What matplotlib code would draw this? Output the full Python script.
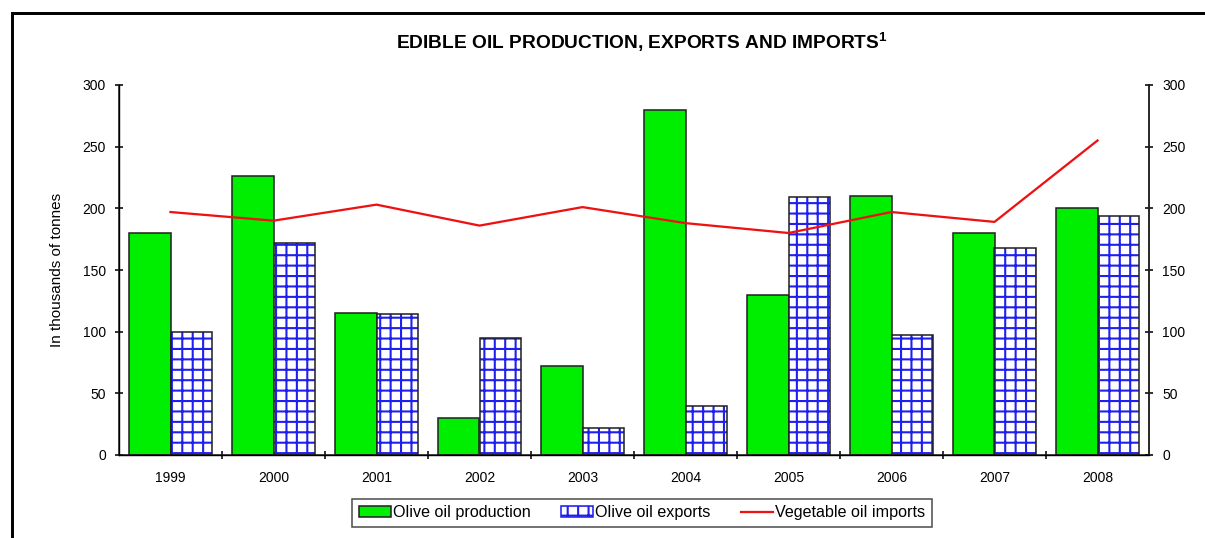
import matplotlib
matplotlib.use("Agg")
import matplotlib.pyplot as plt
import numpy as np
from matplotlib.patches import Patch, Rectangle
from matplotlib.lines import Line2D

years = ["1999", "2000", "2001", "2002", "2003", "2004", "2005", "2006", "2007", "2008"]
production = [180, 226, 115, 30, 72, 280, 130, 210, 180, 200]
exports = [100, 172, 114, 95, 22, 40, 209, 97, 168, 194]
imports = [197, 190, 203, 186, 201, 188, 180, 197, 189, 255]
yticks = [0, 50, 100, 150, 200, 250, 300]

plt.rcParams['font.family'] = ['Liberation Sans', 'DejaVu Sans']
plt.rcParams['hatch.linewidth'] = 1.2

DPI = 125
fig = plt.figure(figsize=(1205 / DPI, 538 / DPI), dpi=DPI)
ax = fig.add_axes([119 / 1205, 1 - 455 / 538, (1149 - 119) / 1205, (455 - 85) / 538])

x = np.arange(len(years))
w = 0.4
ax.bar(x - w / 2, production, width=w, color='#00ee00', edgecolor='#222222', linewidth=0.9, zorder=2)
ax.bar(x + w / 2, exports, width=w, color='white', edgecolor='#2020ee', hatch='++', linewidth=0, zorder=2)
ax.bar(x + w / 2, exports, width=w, fill=False, edgecolor='#222222', linewidth=0.9, zorder=3)
ax.plot(x, imports, color='#ee1111', linewidth=1.3, zorder=4)

ax.set_xlim(-0.5, len(years) - 0.5)
ax.set_ylim(0, 300)
ax.set_yticks(yticks)
ax.set_xticks(x)
ax.set_xticklabels(years)
ax.set_xticks(np.arange(0.5, len(years) - 1, 1.0), minor=True)
ax.tick_params(axis='x', which='major', length=0, pad=9, labelsize=8)
ax.tick_params(axis='x', which='minor', length=5, direction='inout', width=0.9)
ax.tick_params(axis='y', length=5, direction='inout', width=0.9, labelsize=8, pad=5)
ax.spines['top'].set_visible(False)
for s in ['left', 'right', 'bottom']:
    ax.spines[s].set_linewidth(0.9)
    ax.spines[s].set_color('#222222')

ax2 = ax.twinx()
ax2.set_ylim(0, 300)
ax2.set_yticks(yticks)
ax2.tick_params(axis='y', length=5, direction='inout', width=0.9, labelsize=8, pad=5)
ax2.spines['top'].set_visible(False)
ax2.spines['right'].set_linewidth(0.9)
ax2.spines['right'].set_color('#222222')

ax.set_ylabel('In thousands of tonnes', fontsize=8.8, labelpad=11)

fig.text(642 / 1205, 1 - 42 / 538, r'EDIBLE OIL PRODUCTION, EXPORTS AND IMPORTS$^{\mathregular{1}}$',
         ha='center', va='center', fontsize=11.0, fontweight='bold')

handles = [
    Patch(facecolor='#00ee00', edgecolor='#222222', linewidth=0.9),
    Patch(facecolor='white', edgecolor='#2020ee', hatch='++', linewidth=0.9),
    Line2D([0], [0], color='#ee1111', linewidth=1.3),
]
leg = fig.legend(handles, ['Olive oil production', 'Olive oil exports', 'Vegetable oil imports'],
                 loc='center', bbox_to_anchor=(642 / 1205, 1 - 513 / 538), ncol=3,
                 fontsize=9.3, frameon=True, fancybox=False, edgecolor='#222222',
                 handlelength=2.0, handleheight=0.65, handletextpad=0.1, columnspacing=1.9,
                 borderpad=0.4)
leg.get_frame().set_linewidth(0.9)

fig.patches.append(Rectangle((12 / 1205, -0.1), 1.2, 1 - 13 / 538 + 0.1, transform=fig.transFigure,
                             fill=False, edgecolor='black', linewidth=1.7, zorder=10))

fig.savefig('out.png', dpi=DPI)
